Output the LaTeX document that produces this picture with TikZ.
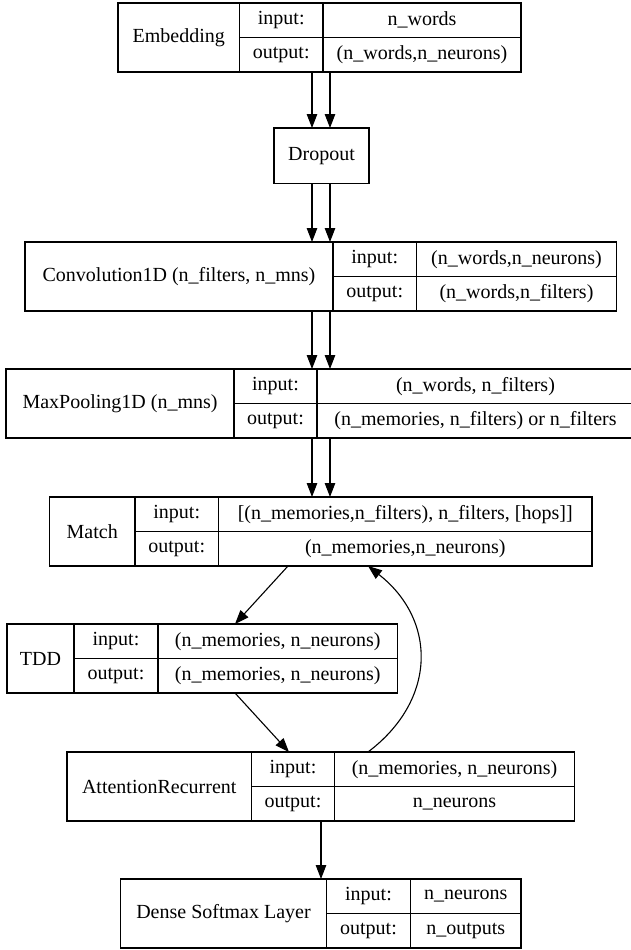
\documentclass[tikz,border=0pt]{standalone}
\usepackage{fontspec}
\setmainfont{Liberation Serif}
\usetikzlibrary{arrows.meta}

% one layer record: name, left, key x, value x, right, top, label, input, output
\newcommand{\layerbox}[9]{%
  \node[cell, minimum width={#3-#2}, minimum height=69] (#1) at (#2,#6) {#7};
  \node[cell, minimum width={#4-#3}, minimum height=34.5] (#1-ik) at (#3,#6) {input:};
  \node[cell, minimum width={#5-#4}, minimum height=34.5] (#1-iv) at (#4,#6) {#8};
  \node[cell, minimum width={#4-#3}, minimum height=34.5] (#1-ok) at (#3,{#6+34.5}) {output:};
  \node[cell, minimum width={#5-#4}, minimum height=34.5] (#1-ov) at (#4,{#6+34.5}) {#9};
}

\begin{document}
\begin{tikzpicture}[x=1pt, y=-1pt,
    -{Triangle[length=14pt,width=10.5pt]},
    line width=1.1pt,
    cell/.style={draw, rectangle, anchor=north west, inner sep=0pt, outer sep=0pt,
      font=\fontsize{20}{24}\selectfont}]
    \useasboundingbox (0,0) rectangle (631,950);
    \layerbox{emb}{118}{239.5}{323}{521}{3}{Embedding}{n\_words}{(n\_words,n\_neurons)}
    \node[cell, minimum width=95, minimum height=55.5] (drop) at (274,128) {Dropout};
    \layerbox{conv}{25}{333}{416.5}{616.5}{242}{Convolution1D (n\_filters, n\_mns)}{(n\_words,n\_neurons)}{(n\_words,n\_filters)}
    \layerbox{pool}{6}{234}{317}{634}{369}{MaxPooling1D (n\_mns)}{(n\_words, n\_filters)}{(n\_memories, n\_filters) or n\_filters}
    \layerbox{match}{49.5}{135}{218.5}{592}{497}{Match}{[(n\_memories,n\_filters), n\_filters, [hops]]}{(n\_memories,n\_neurons)}
    \layerbox{tdd}{7}{74}{158}{397.5}{624}{TDD}{(n\_memories, n\_neurons)}{(n\_memories, n\_neurons)}
    \layerbox{attn}{67}{251.5}{334.5}{574.5}{752}{AttentionRecurrent}{(n\_memories, n\_neurons)}{n\_neurons}
    \layerbox{dense}{120.5}{326.5}{410.5}{521}{879}{Dense Softmax Layer}{n\_neurons}{n\_outputs}
    \path (emb-ok.south -| 312,0) edge (drop.north -| 312,0)
          (emb-ov.south -| 330,0) edge (drop.north -| 330,0)
          (drop.south -| 312,0) edge (conv.north -| 312,0)
          (drop.south -| 330,0) edge (conv.north -| 330,0)
          (conv.south -| 312,0) edge (pool-ik.north -| 312,0)
          (conv.south -| 330,0) edge (pool-iv.north -| 330,0)
          (pool-ok.south -| 312,0) edge (match-iv.north -| 312,0)
          (pool-ov.south -| 330,0) edge (match-iv.north -| 330,0)
          (match-ov.south -| 288,0) edge (tdd-iv.north -| 235,0)
          (tdd-ov.south -| 235,0) edge (attn-ik.north -| 289,0)
          (attn-ok.south -| 321,0) edge (dense.north -| 321,0);
    \draw (attn-iv.north -| 368,0) .. controls (437,700) and (437,620) .. (match-ov.south -| 368,0);
\end{tikzpicture}
\end{document}
